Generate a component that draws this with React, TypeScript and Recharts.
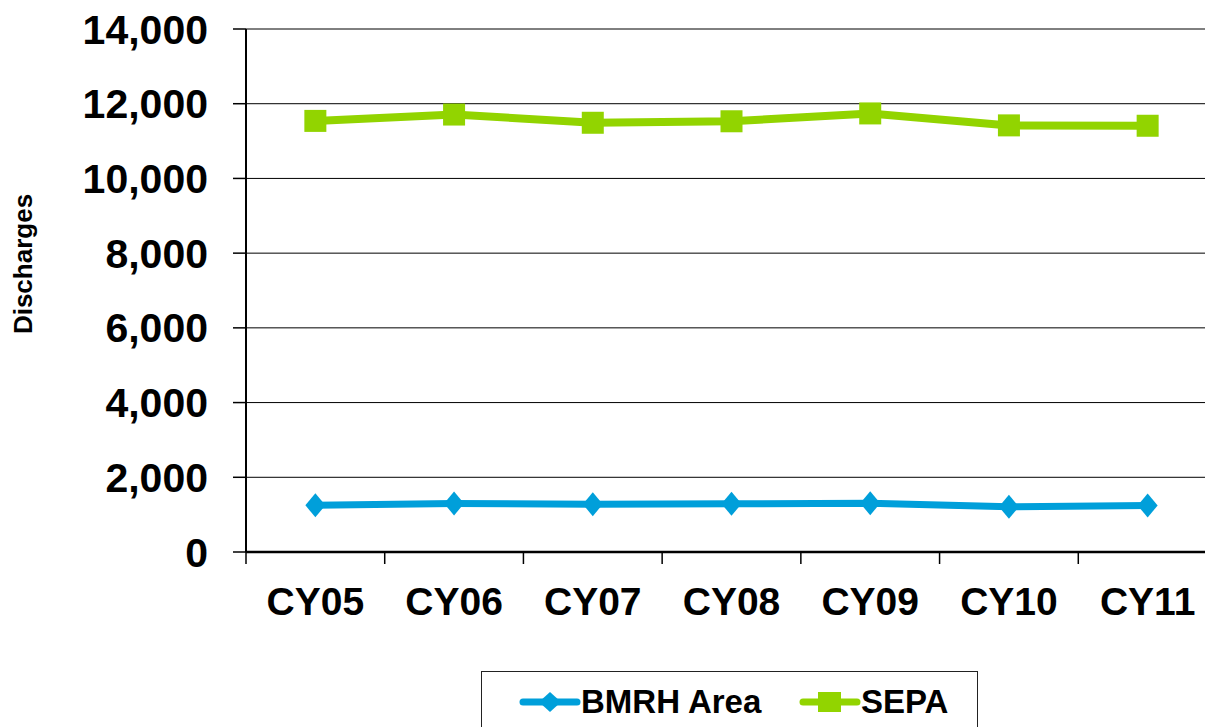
import React from "react";
import { LineChart, Line, XAxis, YAxis, CartesianGrid } from "recharts";

const years = ["CY05", "CY06", "CY07", "CY08", "CY09", "CY10", "CY11"];
const bmrhArea = [1250, 1300, 1280, 1290, 1305, 1210, 1245];
const sepa = [11540, 11710, 11490, 11530, 11740, 11420, 11410];
const yTicks = [0, 2000, 4000, 6000, 8000, 10000, 12000, 14000];

const BLUE = "#009FDA";
const GREEN = "#92D400";
const FONT = '"Liberation Sans", Arial, Helvetica, sans-serif';

const CHART_W = 1230;
const CHART_H = 727;
const Y_AXIS_W = 246;
const MARGIN = { top: 29, right: 13, left: 0, bottom: 0 };
const BAND = (CHART_W - Y_AXIS_W - MARGIN.right) / years.length;

const data = years.map((year, i) => ({
  year,
  bmrh: bmrhArea[i],
  sepa: sepa[i],
}));

const fmt = (v: number) => v.toLocaleString("en-US");

function XTick(props: any) {
  const { x, y, payload, index } = props;
  return (
    <g>
      <line x1={x - BAND / 2} x2={x - BAND / 2} y1={y} y2={y + 12} stroke="#000" strokeWidth={1.5} />
      {index === years.length - 1 && (
        <line x1={x + BAND / 2} x2={x + BAND / 2} y1={y} y2={y + 12} stroke="#000" strokeWidth={1.5} />
      )}
      <text
        x={x}
        y={y + 63}
        textAnchor="middle"
        fontSize={39}
        fontWeight={700}
        fontFamily={FONT}
        fill="#000"
      >
        {payload.value}
      </text>
    </g>
  );
}

function SquareDot(props: any) {
  const { cx, cy, index } = props;
  if (cx == null || cy == null) return <g key={`s${index}`} />;
  return <rect key={`s${index}`} x={cx - 11} y={cy - 11} width={22} height={22} fill={GREEN} />;
}

function DiamondDot(props: any) {
  const { cx, cy, index } = props;
  if (cx == null || cy == null) return <g key={`d${index}`} />;
  return (
    <path
      key={`d${index}`}
      d={`M${cx - 10},${cy} L${cx},${cy - 12} L${cx + 10},${cy} L${cx},${cy + 12} Z`}
      fill={BLUE}
    />
  );
}

function YLabel() {
  return (
    <text
      x={32}
      y={264}
      transform="rotate(-90 32 264)"
      textAnchor="middle"
      fontSize={26}
      fontWeight={700}
      fontFamily={FONT}
      fill="#000"
    >
      Discharges
    </text>
  );
}

function LegendBox() {
  const itemText: React.CSSProperties = {
    fontFamily: FONT,
    fontSize: 33,
    fontWeight: 700,
    color: "#000",
    lineHeight: "36px",
  };
  return (
    <div
      style={{
        position: "absolute",
        left: 481,
        top: 671,
        width: 497,
        height: 90,
        border: "1px solid #222",
        background: "#fff",
        boxSizing: "border-box",
      }}
    >
      <div style={{ position: "absolute", left: 37, top: 12, display: "flex", alignItems: "center" }}>
        <svg width={62} height={26}>
          <line x1={4} x2={58} y1={13} y2={13} stroke={BLUE} strokeWidth={7} strokeLinecap="round" />
          <path d="M20,13 L31,3 L42,13 L31,23 Z" fill={BLUE} />
        </svg>
        <span style={itemText}>BMRH Area</span>
      </div>
      <div style={{ position: "absolute", left: 317, top: 12, display: "flex", alignItems: "center" }}>
        <svg width={62} height={26}>
          <line x1={4} x2={58} y1={13} y2={13} stroke={GREEN} strokeWidth={7} strokeLinecap="round" />
          <rect x={19} y={3} width={23} height={20} fill={GREEN} />
        </svg>
        <span style={itemText}>SEPA</span>
      </div>
    </div>
  );
}

export default function App() {
  return (
    <div
      style={{
        position: "absolute",
        left: 0,
        top: 0,
        width: 1205,
        height: 727,
        overflow: "hidden",
        background: "#fff",
      }}
    >
      <LineChart width={CHART_W} height={CHART_H} data={data} margin={MARGIN}>
        <CartesianGrid vertical={false} stroke="#000" strokeWidth={1} />
        <XAxis
          dataKey="year"
          height={CHART_H - 552}
          padding={{ left: BAND / 2, right: BAND / 2 }}
          tickLine={false}
          tickSize={0}
          tickMargin={0}
          interval={0}
          axisLine={{ stroke: "#000", strokeWidth: 2.5 }}
          tick={<XTick />}
        />
        <YAxis
          width={Y_AXIS_W}
          domain={[0, 14000]}
          ticks={yTicks}
          interval={0}
          tickFormatter={fmt}
          tickSize={13}
          tickMargin={25}
          tickLine={{ stroke: "#000", strokeWidth: 1.5 }}
          axisLine={{ stroke: "#000", strokeWidth: 2 }}
          tick={{ fontSize: 41, fontWeight: 700, fill: "#000", fontFamily: FONT }}
        />
        <Line
          dataKey="bmrh"
          name="BMRH Area"
          stroke={BLUE}
          strokeWidth={7}
          dot={(p: any) => <DiamondDot {...p} />}
          activeDot={false}
          isAnimationActive={false}
        />
        <Line
          dataKey="sepa"
          name="SEPA"
          stroke={GREEN}
          strokeWidth={8}
          dot={(p: any) => <SquareDot {...p} />}
          activeDot={false}
          isAnimationActive={false}
        />
        <YLabel />
      </LineChart>
      <LegendBox />
    </div>
  );
}
